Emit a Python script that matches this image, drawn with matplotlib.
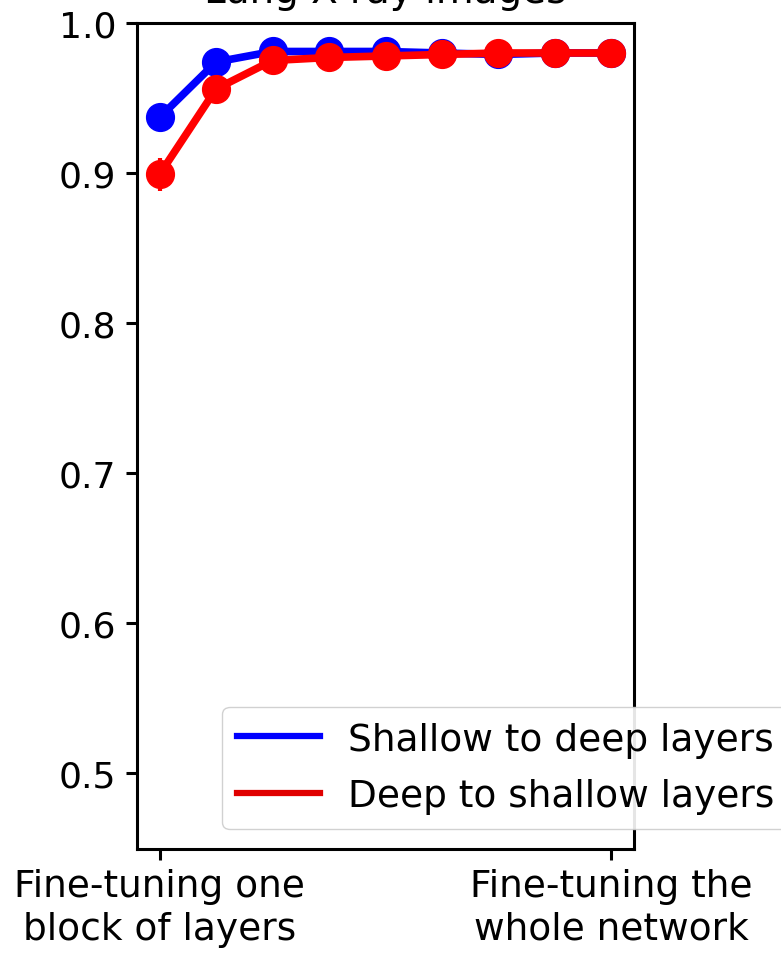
import matplotlib
matplotlib.use("Agg")
import matplotlib.pyplot as plt
from matplotlib.lines import Line2D
import numpy as np

steps = np.arange(9)
shallow_to_deep = [0.937, 0.974, 0.981, 0.981, 0.981, 0.980, 0.979, 0.980, 0.980]
shallow_err = [0.006, 0.004, 0.002, 0.002, 0.002, 0.002, 0.002, 0.002, 0.002]
deep_to_shallow = [0.899, 0.956, 0.975, 0.977, 0.978, 0.979, 0.980, 0.980, 0.980]
deep_err = [0.011, 0.005, 0.003, 0.003, 0.002, 0.002, 0.002, 0.002, 0.002]
series_labels = ["Shallow to deep layers", "Deep to shallow layers"]
xtick_labels = ["Fine-tuning one\nblock of layers", "Fine-tuning the\nwhole network"]

fig = plt.figure(figsize=(7.81, 9.54), dpi=100)
ax = fig.add_axes([137 / 781, 104 / 954, 497 / 781, 826 / 954])

ax.errorbar(steps, shallow_to_deep, yerr=shallow_err, color="blue", lw=5.5,
            marker="o", markersize=20, elinewidth=3)
ax.errorbar(steps, deep_to_shallow, yerr=deep_err, color="red", lw=5.5,
            marker="o", markersize=20, elinewidth=3)

ax.set_ylim(0.449, 1.0)
ax.set_yticks([0.5, 0.6, 0.7, 0.8, 0.9, 1.0])
ax.set_xticks([steps[0], steps[-1]])
ax.set_xticklabels(xtick_labels, fontsize=27, linespacing=1.22)
ax.tick_params(axis="y", labelsize=26, pad=7)
ax.tick_params(width=2.2, length=8)
ax.tick_params(axis="x", pad=6)
for s in ax.spines.values():
    s.set_linewidth(2.2)

ax.set_title("Lung X-ray images", fontsize=28, pad=15)

hl = [Line2D([], [], color="blue", lw=4.5), Line2D([], [], color="#e00000", lw=4.5)]
ax.legend(hl, series_labels, loc="lower left", bbox_to_anchor=(0.172, 0.024),
          borderaxespad=0, fontsize=27, handlelength=2.2, handletextpad=0.75,
          labelspacing=0.55, framealpha=0.9)

fig.savefig("out.png", dpi=100)
